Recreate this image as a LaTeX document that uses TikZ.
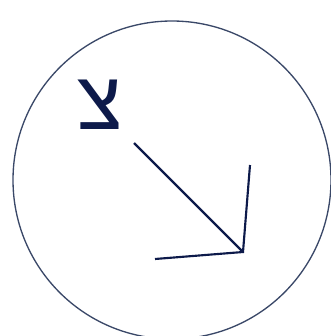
\documentclass[tikz,border=0pt]{standalone}
\usepackage{fontspec}
\newfontfamily\hebfont[Script=Hebrew]{Liberation Sans}
\TeXXeTstate=1
\definecolor{navy}{HTML}{0D1A4A}
\definecolor{rim}{HTML}{3A4868}

\begin{document}
\begin{tikzpicture}[
  x=0.75pt, y=-0.75pt,
  ring/.style={draw=rim, line width=1pt},
  stroke/.style={draw=navy, line width=1.6pt},
  letter/.style={inner sep=0pt, text=navy, font=\hebfont\fontsize{62}{62}\selectfont}
]
  \useasboundingbox (0,0) rectangle (331,336);
  \clip (0,0) rectangle (331,336);
  \draw[ring] (172,180) circle[radius=159];
  \node[letter] (tsadi) at (100.5,105) {\beginR צ\endR};
  \coordinate (start) at (134,143);
  \coordinate (tip) at (243,252);
  \coordinate (wingl) at (155,259);
  \coordinate (wingr) at (250,165);
  \draw[stroke] (start) -- (tip);
  \draw[stroke] (wingl) -- (tip) -- (wingr);
\end{tikzpicture}
\end{document}
